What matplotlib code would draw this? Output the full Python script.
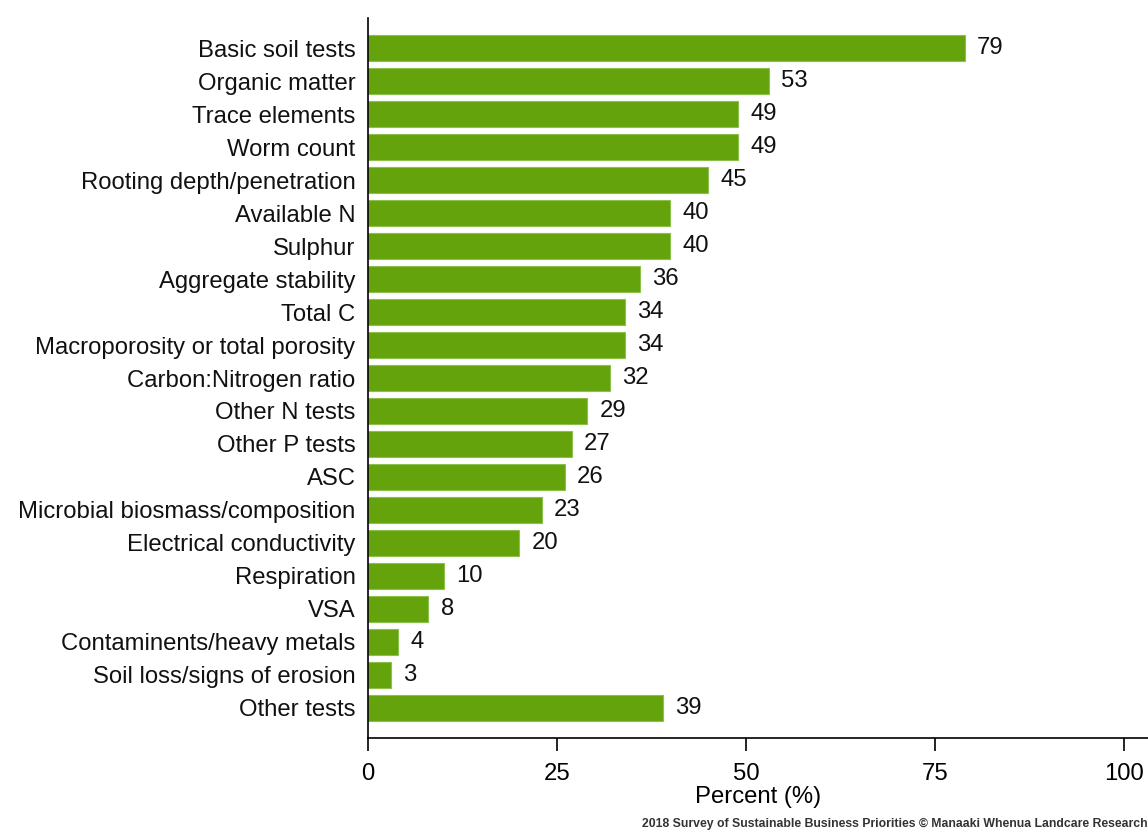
import matplotlib
matplotlib.use("Agg")
from matplotlib import pyplot as plt

plt.rcParams['font.family'] = ['Liberation Sans', 'DejaVu Sans']

categories = [
    "Basic soil tests", "Organic matter", "Trace elements", "Worm count",
    "Rooting depth/penetration", "Available N", "Sulphur", "Aggregate stability",
    "Total C", "Macroporosity or total porosity", "Carbon:Nitrogen ratio",
    "Other N tests", "Other P tests", "ASC", "Microbial biosmass/composition",
    "Electrical conductivity", "Respiration", "VSA", "Contaminents/heavy metals",
    "Soil loss/signs of erosion", "Other tests",
]
values = [79, 53, 49, 49, 45, 40, 40, 36, 34, 34, 32, 29, 27, 26, 23, 20, 10, 8, 4, 3, 39]
xticks = [0, 25, 50, 75, 100]

fs = 17.2

fig = plt.figure(figsize=(11.48, 8.30), dpi=100)
ax = fig.add_axes([368 / 1148, 92 / 830, 1 - 368 / 1148, 720 / 830])

ypos = list(range(len(categories)))
ax.barh(ypos, values, height=0.76, color="#64a30b", edgecolor="#8cbf4c", linewidth=0.8)
for y, v in zip(ypos, values):
    ax.text(v + 1.6, y, str(v), va="center", ha="left", fontsize=fs, color="#111111")

ax.set_ylim(len(categories) - 0.09, -0.91)
ax.set_xlim(0, 103.2)
ax.set_yticks(ypos)
ax.set_yticklabels(categories, fontsize=fs, color="#111111")
ax.tick_params(axis="y", length=0, pad=9)
ax.set_xticks(xticks)
ax.set_xticklabels([str(t) for t in xticks], fontsize=fs)
ax.tick_params(axis="x", length=9, width=1.2, pad=9)
ax.set_xlabel("Percent (%)", fontsize=fs, labelpad=1)

for s in ["top", "right"]:
    ax.spines[s].set_visible(False)
for s in ["left", "bottom"]:
    ax.spines[s].set_linewidth(1.2)

fig.text(1.0, 0.0, "2018 Survey of Sustainable Business Priorities \u00a9 Manaaki Whenua Landcare Research",
         ha="right", va="bottom", fontsize=8.8, fontweight="bold", color="#333333")

fig.savefig("out.png", dpi=100)
